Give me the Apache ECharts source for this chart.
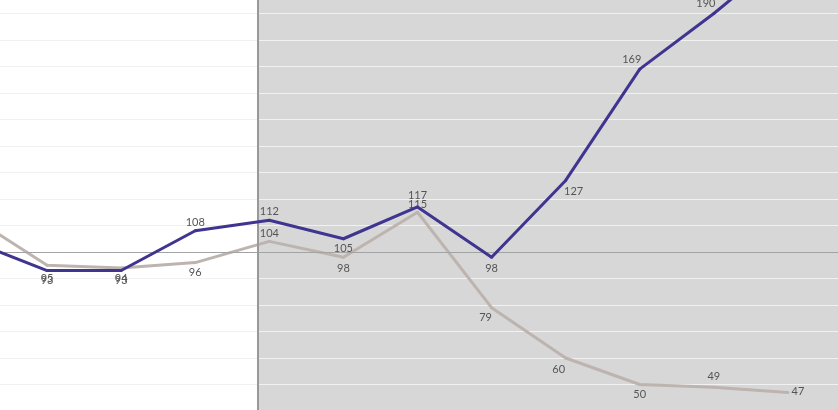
<!DOCTYPE html>
<html>
<head>
<meta charset="utf-8">
<script src="https://cdn.jsdelivr.net/npm/echarts@6/dist/echarts.min.js"></script>
<style>
html,body{margin:0;padding:0;background:#ffffff;}
#chart{width:838px;height:410px;}
</style>
</head>
<body>
<div id="chart"></div>
<script>
// Categories (the axis labels are cropped out of view in the reference)
var categories = ['P0','P1','P2','P3','P4','P5','P6','P7','P8','P9','P10','P11','P12'];
// Series values
var blueValues = [104, 93, 93, 108, 112, 105, 117, 98, 127, 169, 190, 213, null];
var grayValues = [113, 95, 94, 96, 104, 98, 115, 79, 60, 50, 49, 47, null];
// Reference level and shaded-region start (category index units)
var baseline = 100;
var shadeStart = 3.85;

// Label offsets [dx, dy] relative to each point (layout only)
var blueLabelOffsets = [[0,-10],[0,10],[0,10],[0,-8],[0,-9],[0,10],[0,-11],[0,11],[8,11],[-8,-10],[-8,-10],[0,-10],[0,0]];
var grayLabelOffsets = [[0,-10],[0,13],[0,11],[0,10],[0,-8],[0,11],[0,-8],[-6,10],[-7,11],[0,10],[0,-11],[10,-1],[0,0]];

function buildData(values, offsets) {
  return values.map(function (v, i) {
    return {
      value: v,
      label: { offset: offsets[i] }
    };
  });
}

var labelStyle = {
  show: true,
  position: 'inside',
  color: '#555555',
  fontFamily: 'Lato, "DejaVu Sans", sans-serif',
  fontSize: 11,
  formatter: function (p) { return p.value == null ? '' : String(p.value); }
};

var chart = echarts.init(document.getElementById('chart'), null, { renderer: 'canvas' });
chart.setOption({
  animation: false,
  backgroundColor: '#ffffff',
  grid: { left: -27, right: -24, top: -66, bottom: -107, containLabel: false, outerBoundsMode: 'none' },
  xAxis: [
    {
      type: 'category',
      data: categories,
      boundaryGap: false,
      axisLine: { show: false },
      axisTick: { show: false },
      axisLabel: { show: false },
      splitLine: { show: false }
    },
    {
      type: 'value',
      min: 0,
      max: categories.length - 1,
      show: false,
      splitLine: { show: false }
    }
  ],
  yAxis: {
    type: 'value',
    min: 0,
    max: 220,
    interval: 10,
    axisLine: { show: false },
    axisTick: { show: false },
    axisLabel: { show: false },
    splitLine: { show: true, lineStyle: { color: '#f1f1f1', width: 1 } },
    z: 1
  },
  series: [
    {
      type: 'line',
      xAxisIndex: 1,
      data: [],
      silent: true,
      z: -5,
      markArea: {
        silent: true,
        z: -5,
        itemStyle: { color: '#d7d7d7' },
        data: [[{ xAxis: shadeStart }, { xAxis: categories.length - 1 }]]
      }
    },
    {
      type: 'line',
      xAxisIndex: 1,
      data: [],
      silent: true,
      z: 3,
      markLine: {
        silent: true,
        symbol: ['none', 'none'],
        label: { show: false },
        data: [
          { yAxis: baseline, lineStyle: { color: '#a3a3a3', width: 1, type: 'solid' } },
          { xAxis: shadeStart, lineStyle: { color: '#999999', width: 2, type: 'solid' } }
        ]
      }
    },
    {
      name: 'Gray',
      type: 'line',
      data: buildData(grayValues, grayLabelOffsets),
      symbol: 'circle',
      symbolSize: 3,
      showSymbol: true,
      lineStyle: { color: '#bdb4af', width: 3 },
      itemStyle: { color: '#bdb4af' },
      label: labelStyle,
      z: 4
    },
    {
      name: 'Blue',
      type: 'line',
      data: buildData(blueValues, blueLabelOffsets),
      symbol: 'circle',
      symbolSize: 3,
      showSymbol: true,
      clip: false,
      lineStyle: { color: '#3f348f', width: 3 },
      itemStyle: { color: '#3f348f' },
      label: labelStyle,
      z: 5
    }
  ]
});
</script>
</body>
</html>
